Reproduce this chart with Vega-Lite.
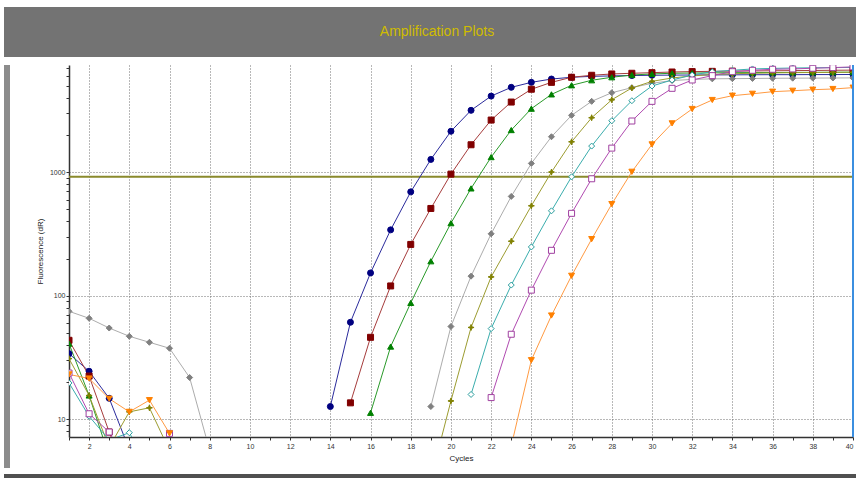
{
  "$schema": "https://vega.github.io/schema/vega-lite/v6.json",
  "padding": {"left": 4, "top": 7, "right": 0, "bottom": 0},
  "background": "white",
  "spacing": 6,
  "config": {
    "view": {"stroke": null},
    "axis": {
      "labelFont": "Liberation Sans", "titleFont": "Liberation Sans",
      "labelFontSize": 7, "titleFontSize": 8, "titleFontWeight": "normal",
      "labelColor": "#333333", "titleColor": "#222222",
      "domainColor": "#333333", "domainWidth": 1.5, "tickColor": "#333333",
      "gridColor": "#707070", "gridDash": [1, 2], "tickSize": 3
    }
  },
  "datasets": {
    "curves": [
      {"s":"S1","g":"a","c":1,"v":34},{"s":"S1","g":"a","c":2,"v":24.5},{"s":"S1","g":"a","c":3,"v":14.8},{"s":"S1","g":"a","c":4,"v":5.7},
      {"s":"S1","g":"b","c":14,"v":12.7},{"s":"S1","g":"b","c":15,"v":61},{"s":"S1","g":"b","c":16,"v":153},{"s":"S1","g":"b","c":17,"v":341},{"s":"S1","g":"b","c":18,"v":692},{"s":"S1","g":"b","c":19,"v":1267},{"s":"S1","g":"b","c":20,"v":2140},{"s":"S1","g":"b","c":21,"v":3160},{"s":"S1","g":"b","c":22,"v":4120},{"s":"S1","g":"b","c":23,"v":4850},{"s":"S1","g":"b","c":24,"v":5320},{"s":"S1","g":"b","c":25,"v":5660},{"s":"S1","g":"b","c":26,"v":5850},{"s":"S1","g":"b","c":27,"v":5950},{"s":"S1","g":"b","c":28,"v":6000},{"s":"S1","g":"b","c":29,"v":6040},{"s":"S1","g":"b","c":30,"v":6070},{"s":"S1","g":"b","c":31,"v":6090},{"s":"S1","g":"b","c":32,"v":6100},{"s":"S1","g":"b","c":33,"v":6110},{"s":"S1","g":"b","c":34,"v":6120},{"s":"S1","g":"b","c":35,"v":6130},{"s":"S1","g":"b","c":36,"v":6140},{"s":"S1","g":"b","c":37,"v":6140},{"s":"S1","g":"b","c":38,"v":6150},{"s":"S1","g":"b","c":39,"v":6150},{"s":"S1","g":"b","c":40,"v":6160},
      {"s":"S2","g":"a","c":1,"v":43.6},{"s":"S2","g":"a","c":2,"v":22.4},{"s":"S2","g":"a","c":3,"v":7.9},{"s":"S2","g":"a","c":4,"v":3},
      {"s":"S2","g":"b","c":15,"v":13.6},{"s":"S2","g":"b","c":16,"v":46.1},{"s":"S2","g":"b","c":17,"v":120},{"s":"S2","g":"b","c":18,"v":260},{"s":"S2","g":"b","c":19,"v":508},{"s":"S2","g":"b","c":20,"v":963},{"s":"S2","g":"b","c":21,"v":1664},{"s":"S2","g":"b","c":22,"v":2636},{"s":"S2","g":"b","c":23,"v":3686},{"s":"S2","g":"b","c":24,"v":4680},{"s":"S2","g":"b","c":25,"v":5320},{"s":"S2","g":"b","c":26,"v":5850},{"s":"S2","g":"b","c":27,"v":6070},{"s":"S2","g":"b","c":28,"v":6220},{"s":"S2","g":"b","c":29,"v":6300},{"s":"S2","g":"b","c":30,"v":6370},{"s":"S2","g":"b","c":31,"v":6450},{"s":"S2","g":"b","c":32,"v":6500},{"s":"S2","g":"b","c":33,"v":6530},{"s":"S2","g":"b","c":34,"v":6560},{"s":"S2","g":"b","c":35,"v":6580},{"s":"S2","g":"b","c":36,"v":6600},{"s":"S2","g":"b","c":37,"v":6620},{"s":"S2","g":"b","c":38,"v":6640},{"s":"S2","g":"b","c":39,"v":6660},{"s":"S2","g":"b","c":40,"v":6680},
      {"s":"S3","g":"a","c":1,"v":41},{"s":"S3","g":"a","c":2,"v":15.6},{"s":"S3","g":"a","c":3,"v":5},
      {"s":"S3","g":"b","c":16,"v":11.3},{"s":"S3","g":"b","c":17,"v":38.8},{"s":"S3","g":"b","c":18,"v":87.5},{"s":"S3","g":"b","c":19,"v":190},{"s":"S3","g":"b","c":20,"v":386},{"s":"S3","g":"b","c":21,"v":738},{"s":"S3","g":"b","c":22,"v":1322},{"s":"S3","g":"b","c":23,"v":2188},{"s":"S3","g":"b","c":24,"v":3258},{"s":"S3","g":"b","c":25,"v":4253},{"s":"S3","g":"b","c":26,"v":5036},{"s":"S3","g":"b","c":27,"v":5530},{"s":"S3","g":"b","c":28,"v":5850},{"s":"S3","g":"b","c":29,"v":6100},{"s":"S3","g":"b","c":30,"v":6220},{"s":"S3","g":"b","c":31,"v":6300},{"s":"S3","g":"b","c":32,"v":6330},{"s":"S3","g":"b","c":33,"v":6350},{"s":"S3","g":"b","c":34,"v":6370},{"s":"S3","g":"b","c":35,"v":6380},{"s":"S3","g":"b","c":36,"v":6390},{"s":"S3","g":"b","c":37,"v":6400},{"s":"S3","g":"b","c":38,"v":6410},{"s":"S3","g":"b","c":39,"v":6420},{"s":"S3","g":"b","c":40,"v":6430},
      {"s":"S4","g":"a","c":1,"v":74.8},{"s":"S4","g":"a","c":2,"v":65.7},{"s":"S4","g":"a","c":3,"v":54.8},{"s":"S4","g":"a","c":4,"v":47},{"s":"S4","g":"a","c":5,"v":42},{"s":"S4","g":"a","c":6,"v":37.6},{"s":"S4","g":"a","c":7,"v":21.8},{"s":"S4","g":"a","c":8,"v":5.6},
      {"s":"S4","g":"b","c":19,"v":12.7},{"s":"S4","g":"b","c":20,"v":56.4},{"s":"S4","g":"b","c":21,"v":144},{"s":"S4","g":"b","c":22,"v":317},{"s":"S4","g":"b","c":23,"v":636},{"s":"S4","g":"b","c":24,"v":1176},{"s":"S4","g":"b","c":25,"v":1932},{"s":"S4","g":"b","c":26,"v":2878},{"s":"S4","g":"b","c":27,"v":3735},{"s":"S4","g":"b","c":28,"v":4385},{"s":"S4","g":"b","c":29,"v":4820},{"s":"S4","g":"b","c":30,"v":5230},{"s":"S4","g":"b","c":31,"v":5500},{"s":"S4","g":"b","c":32,"v":5620},{"s":"S4","g":"b","c":33,"v":5680},{"s":"S4","g":"b","c":34,"v":5700},{"s":"S4","g":"b","c":35,"v":5720},{"s":"S4","g":"b","c":36,"v":5740},{"s":"S4","g":"b","c":37,"v":5750},{"s":"S4","g":"b","c":38,"v":5760},{"s":"S4","g":"b","c":39,"v":5770},{"s":"S4","g":"b","c":40,"v":5780},
      {"s":"S5","g":"a","c":1,"v":31},{"s":"S5","g":"a","c":2,"v":15.6},{"s":"S5","g":"a","c":3,"v":5.95},{"s":"S5","g":"a","c":4,"v":11.5},{"s":"S5","g":"a","c":5,"v":12.4},{"s":"S5","g":"a","c":6,"v":5.6},
      {"s":"S5","g":"b","c":19,"v":3.3},{"s":"S5","g":"b","c":20,"v":14.1},{"s":"S5","g":"b","c":21,"v":55.4},{"s":"S5","g":"b","c":22,"v":142},{"s":"S5","g":"b","c":23,"v":276},{"s":"S5","g":"b","c":24,"v":534},{"s":"S5","g":"b","c":25,"v":1000},{"s":"S5","g":"b","c":26,"v":1758},{"s":"S5","g":"b","c":27,"v":2752},{"s":"S5","g":"b","c":28,"v":3847},{"s":"S5","g":"b","c":29,"v":4790},{"s":"S5","g":"b","c":30,"v":5420},{"s":"S5","g":"b","c":31,"v":5770},{"s":"S5","g":"b","c":32,"v":6000},{"s":"S5","g":"b","c":33,"v":6150},{"s":"S5","g":"b","c":34,"v":6250},{"s":"S5","g":"b","c":35,"v":6300},{"s":"S5","g":"b","c":36,"v":6340},{"s":"S5","g":"b","c":37,"v":6370},{"s":"S5","g":"b","c":38,"v":6390},{"s":"S5","g":"b","c":39,"v":6410},{"s":"S5","g":"b","c":40,"v":6420},
      {"s":"S6","g":"a","c":1,"v":19.7},{"s":"S6","g":"a","c":2,"v":10.6},{"s":"S6","g":"a","c":3,"v":6.8},{"s":"S6","g":"a","c":4,"v":7.8},{"s":"S6","g":"a","c":5,"v":4},
      {"s":"S6","g":"b","c":21,"v":15.9},{"s":"S6","g":"b","c":22,"v":54.2},{"s":"S6","g":"b","c":23,"v":122},{"s":"S6","g":"b","c":24,"v":248},{"s":"S6","g":"b","c":25,"v":486},{"s":"S6","g":"b","c":26,"v":916},{"s":"S6","g":"b","c":27,"v":1624},{"s":"S6","g":"b","c":28,"v":2602},{"s":"S6","g":"b","c":29,"v":3780},{"s":"S6","g":"b","c":30,"v":4970},{"s":"S6","g":"b","c":31,"v":5560},{"s":"S6","g":"b","c":32,"v":6100},{"s":"S6","g":"b","c":33,"v":6490},{"s":"S6","g":"b","c":34,"v":6660},{"s":"S6","g":"b","c":35,"v":6830},{"s":"S6","g":"b","c":36,"v":6900},{"s":"S6","g":"b","c":37,"v":6950},{"s":"S6","g":"b","c":38,"v":6980},{"s":"S6","g":"b","c":39,"v":7000},{"s":"S6","g":"b","c":40,"v":7020},
      {"s":"S7","g":"a","c":1,"v":23.7},{"s":"S7","g":"a","c":2,"v":11.1},{"s":"S7","g":"a","c":3,"v":7.9},{"s":"S7","g":"a","c":4,"v":4},{"s":"S7","g":"a","c":5,"v":5},{"s":"S7","g":"a","c":6,"v":7.7},{"s":"S7","g":"a","c":7,"v":4},
      {"s":"S7","g":"b","c":22,"v":15},{"s":"S7","g":"b","c":23,"v":48.8},{"s":"S7","g":"b","c":24,"v":111},{"s":"S7","g":"b","c":25,"v":233},{"s":"S7","g":"b","c":26,"v":464},{"s":"S7","g":"b","c":27,"v":883},{"s":"S7","g":"b","c":28,"v":1563},{"s":"S7","g":"b","c":29,"v":2590},{"s":"S7","g":"b","c":30,"v":3735},{"s":"S7","g":"b","c":31,"v":4760},{"s":"S7","g":"b","c":32,"v":5560},{"s":"S7","g":"b","c":33,"v":6030},{"s":"S7","g":"b","c":34,"v":6490},{"s":"S7","g":"b","c":35,"v":6660},{"s":"S7","g":"b","c":36,"v":6790},{"s":"S7","g":"b","c":37,"v":6830},{"s":"S7","g":"b","c":38,"v":6920},{"s":"S7","g":"b","c":39,"v":7000},{"s":"S7","g":"b","c":40,"v":7100},
      {"s":"S8","g":"a","c":1,"v":23.1},{"s":"S8","g":"a","c":2,"v":21.4},{"s":"S8","g":"a","c":3,"v":14.7},{"s":"S8","g":"a","c":4,"v":11.5},{"s":"S8","g":"a","c":5,"v":14.3},{"s":"S8","g":"a","c":6,"v":7.7},{"s":"S8","g":"a","c":7,"v":4},
      {"s":"S8","g":"b","c":23,"v":6.1},{"s":"S8","g":"b","c":24,"v":30.1},{"s":"S8","g":"b","c":25,"v":69.2},{"s":"S8","g":"b","c":26,"v":145},{"s":"S8","g":"b","c":27,"v":287},{"s":"S8","g":"b","c":28,"v":551},{"s":"S8","g":"b","c":29,"v":1006},{"s":"S8","g":"b","c":30,"v":1675},{"s":"S8","g":"b","c":31,"v":2478},{"s":"S8","g":"b","c":32,"v":3240},{"s":"S8","g":"b","c":33,"v":3830},{"s":"S8","g":"b","c":34,"v":4150},{"s":"S8","g":"b","c":35,"v":4300},{"s":"S8","g":"b","c":36,"v":4470},{"s":"S8","g":"b","c":37,"v":4550},{"s":"S8","g":"b","c":38,"v":4640},{"s":"S8","g":"b","c":39,"v":4700},{"s":"S8","g":"b","c":40,"v":4820}
    ]
  },
  "vconcat": [
    {
      "width": 852, "height": 50,
      "view": {"fill": "#737373", "stroke": null},
      "data": {"values": [{"t": "Amplification Plots"}]},
      "mark": {"type": "text", "font": "Liberation Sans", "fontSize": 14, "color": "#d0bc00", "dx": 7, "dy": 0},
      "encoding": {"text": {"field": "t", "type": "nominal"}}
    },
    {
      "spacing": 26,
      "hconcat": [
        {
          "width": 6, "height": 403,
          "view": {"fill": "#8c8c8c", "stroke": null},
          "data": {"values": [{"k": 0}]},
          "mark": {"type": "point", "opacity": 0}
        },
        {
          "width": 784, "height": 372,
          "data": {"name": "curves"},
          "encoding": {
            "x": {"field": "c", "type": "quantitative",
              "scale": {"domain": [1, 40], "nice": false, "zero": false},
              "axis": {
                "title": "Cycles", "titlePadding": 5, "labelPadding": 2,
                "values": [1,2,3,4,5,6,7,8,9,10,11,12,13,14,15,16,17,18,19,20,21,22,23,24,25,26,27,28,29,30,31,32,33,34,35,36,37,38,39,40],
                "labelExpr": "datum.value % 2 === 0 ? datum.label : ''",
                "labelOverlap": false, "labelFlush": true,
                "gridOpacity": {"condition": {"test": "datum.value % 2 === 0", "value": 1}, "value": 0}
              }
            },
            "y": {"field": "v", "type": "quantitative",
              "scale": {"type": "log", "domain": [7.2, 7350], "nice": false},
              "axis": {
                "title": "Fluorescence (dR)", "titlePadding": 5, "labelPadding": 1, "format": "d",
                "values": [8,9,10,20,30,40,50,60,70,80,90,100,200,300,400,500,600,700,800,900,1000,2000,3000,4000,5000,6000,7000],
                "labelExpr": "datum.value === 10 || datum.value === 100 || datum.value === 1000 ? datum.label : ''",
                "labelOverlap": false,
                "gridOpacity": {"condition": {"test": "datum.value === 10 || datum.value === 100 || datum.value === 1000", "value": 1}, "value": 0}
              }
            }
          },
          "layer": [
            {
              "data": {"values": [{"threshold": 915}]},
              "mark": {"type": "rule", "color": "#8a8a2c", "strokeWidth": 2},
              "encoding": {"x": null, "y": {"field": "threshold", "type": "quantitative"}}
            },
            {
              "mark": {"type": "line", "clip": true, "strokeWidth": 1},
              "encoding": {
                "color": {"field": "s", "type": "nominal", "legend": null,
                  "scale": {"domain": ["S1","S2","S3","S4","S5","S6","S7","S8"],
                    "range": ["#2b2b9c","#a63c3c","#2a9a2a","#acacac","#9c9c30","#3aadad","#b04ab0","#ff9a42"]}},
                "detail": {"field": "g"}
              }
            },
            {
              "mark": {"type": "point", "clip": true, "opacity": 1, "strokeWidth": 1, "size": 36},
              "encoding": {
                "shape": {"field": "s", "type": "nominal", "legend": null,
                  "scale": {"domain": ["S1","S2","S3","S4","S5","S6","S7","S8"],
                    "range": ["circle","square","triangle-up","diamond","M0,-1L0.25,-0.25L1,0L0.25,0.25L0,1L-0.25,0.25L-1,0L-0.25,-0.25Z","diamond","square","triangle-down"]}},
                "stroke": {"field": "s", "type": "nominal", "legend": null,
                  "scale": {"domain": ["S1","S2","S3","S4","S5","S6","S7","S8"],
                    "range": ["#000080","#800000","#008000","#808080","#808000","#2a9d9d","#a040a0","#ff8000"]}},
                "fill": {"field": "s", "type": "nominal", "legend": null,
                  "scale": {"domain": ["S1","S2","S3","S4","S5","S6","S7","S8"],
                    "range": ["#000080","#800000","#008000","#808080","#808000","#ffffff","#ffffff","#ff8000"]}}
              }
            },
            {
              "data": {"values": [{"edge": 40}]},
              "mark": {"type": "rule", "color": "#3b8fe0", "strokeWidth": 2},
              "encoding": {"y": null, "x": {"field": "edge", "type": "quantitative"}}
            }
          ]
        }
      ]
    },
    {
      "width": 852, "height": 6,
      "view": {"fill": "#505050", "stroke": null},
      "data": {"values": [{"k": 0}]},
      "mark": {"type": "point", "opacity": 0}
    }
  ]
}
